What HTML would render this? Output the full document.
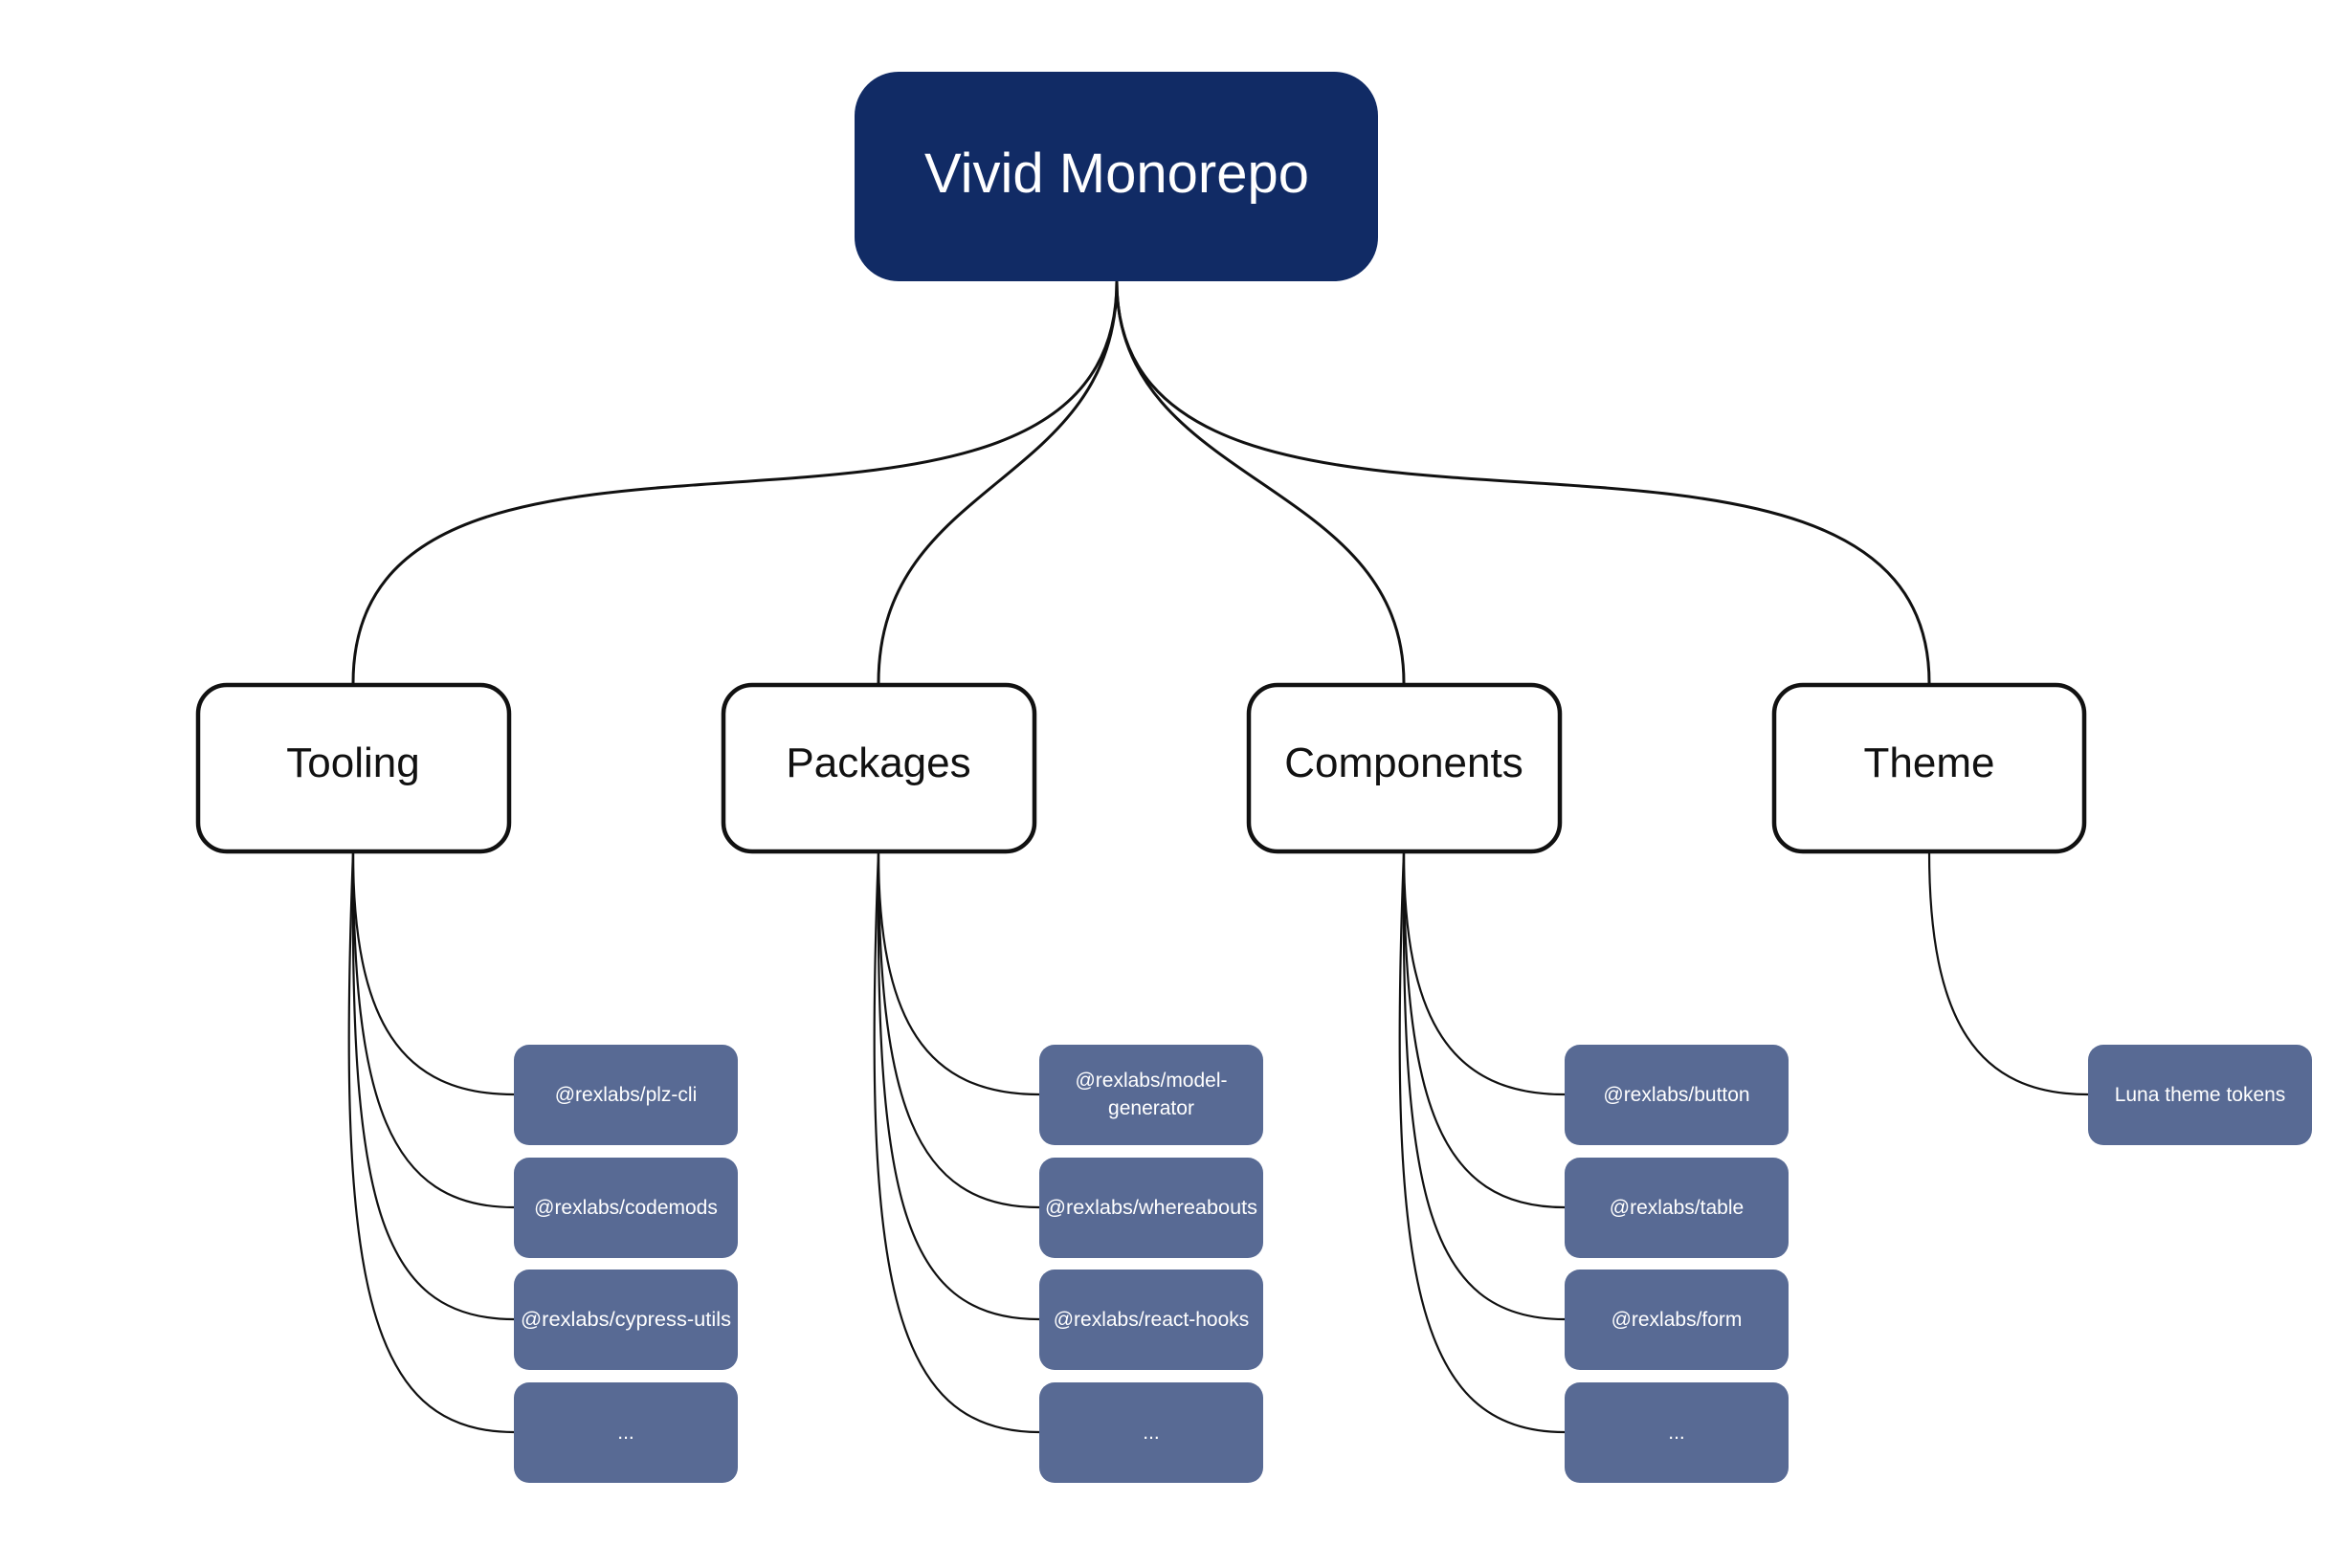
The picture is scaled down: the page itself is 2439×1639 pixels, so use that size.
<!DOCTYPE html>
<html><head><meta charset="utf-8"><style>
html,body{margin:0;padding:0;background:#fff;}
svg{display:block;}
text{font-family:"Liberation Sans",sans-serif;}
</style></head><body>
<svg width="2439" height="1639" viewBox="0 0 2439 1639" xmlns="http://www.w3.org/2000/svg">
<g fill="none" stroke="#111" stroke-width="3">
<path d="M1167,294 C1167,660 369,348 369,714"/>
<path d="M1167,294 C1167,510 918,498 918,714"/>
<path d="M1167,294 C1167,510 1467,498 1467,714"/>
<path d="M1167,294 C1167,660 2016,348 2016,714"/>
</g>
<g fill="none" stroke="#111" stroke-width="2.2">
<path d="M369,890 C369,1068 419,1144 537,1144"/>
<path d="M369,890 C369,1150 405,1262 537,1262"/>
<path d="M369,890 C366,1240 390,1379 537,1379"/>
<path d="M369,890 C352,1330 380,1497 537,1497"/>
<path d="M918,890 C918,1068 968,1144 1086,1144"/>
<path d="M918,890 C918,1150 954,1262 1086,1262"/>
<path d="M918,890 C915,1240 939,1379 1086,1379"/>
<path d="M918,890 C901,1330 929,1497 1086,1497"/>
<path d="M1467,890 C1467,1068 1517,1144 1635,1144"/>
<path d="M1467,890 C1467,1150 1503,1262 1635,1262"/>
<path d="M1467,890 C1464,1240 1488,1379 1635,1379"/>
<path d="M1467,890 C1450,1330 1478,1497 1635,1497"/>
<path d="M2016,890 C2016,1068 2066,1144 2182,1144"/>
</g>
<rect x="893" y="75" width="547" height="219" rx="46" fill="#112b65"/>
<text x="1167" y="201" font-size="58" fill="#fff" text-anchor="middle">Vivid Monorepo</text>
<g fill="#fff" stroke="#111" stroke-width="4.5">
<rect x="207" y="716" width="325" height="174" rx="30"/>
<rect x="756" y="716" width="325" height="174" rx="30"/>
<rect x="1305" y="716" width="325" height="174" rx="30"/>
<rect x="1854" y="716" width="324" height="174" rx="30"/>
</g>
<g font-size="44" fill="#111" text-anchor="middle">
<text x="369" y="812">Tooling</text>
<text x="918" y="812">Packages</text>
<text x="1467" y="812">Components</text>
<text x="2016" y="812">Theme</text>
</g>
<g fill="#586a94">
<rect x="537" y="1092" width="234" height="105" rx="16"/>
<rect x="537" y="1210" width="234" height="105" rx="16"/>
<rect x="537" y="1327" width="234" height="105" rx="16"/>
<rect x="537" y="1445" width="234" height="105" rx="16"/>
<rect x="1086" y="1092" width="234" height="105" rx="16"/>
<rect x="1086" y="1210" width="234" height="105" rx="16"/>
<rect x="1086" y="1327" width="234" height="105" rx="16"/>
<rect x="1086" y="1445" width="234" height="105" rx="16"/>
<rect x="1635" y="1092" width="234" height="105" rx="16"/>
<rect x="1635" y="1210" width="234" height="105" rx="16"/>
<rect x="1635" y="1327" width="234" height="105" rx="16"/>
<rect x="1635" y="1445" width="234" height="105" rx="16"/>
<rect x="2182" y="1092" width="234" height="105" rx="16"/>
</g>
<g font-size="21" fill="#fff" text-anchor="middle">
<text x="654" y="1151">@rexlabs/plz-cli</text>
<text x="654" y="1269">@rexlabs/codemods</text>
<text x="654" y="1386" textLength="220" lengthAdjust="spacingAndGlyphs">@rexlabs/cypress-utils</text>
<text x="654" y="1504">...</text>
<text x="1203" y="1136">@rexlabs/model-</text>
<text x="1203" y="1165">generator</text>
<text x="1203" y="1269" textLength="222" lengthAdjust="spacingAndGlyphs">@rexlabs/whereabouts</text>
<text x="1203" y="1386">@rexlabs/react-hooks</text>
<text x="1203" y="1504">...</text>
<text x="1752" y="1151">@rexlabs/button</text>
<text x="1752" y="1269">@rexlabs/table</text>
<text x="1752" y="1386">@rexlabs/form</text>
<text x="1752" y="1504">...</text>
<text x="2299" y="1151">Luna theme tokens</text>
</g>
</svg>
</body></html>
